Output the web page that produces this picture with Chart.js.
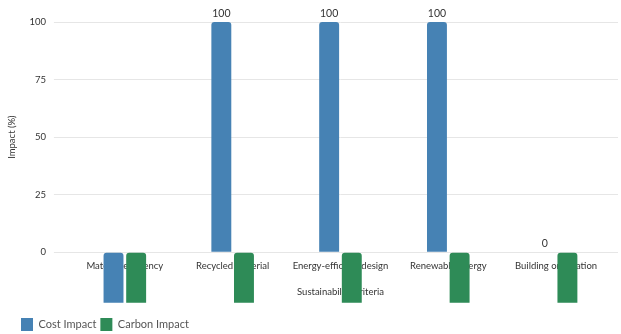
<!DOCTYPE html>
<html>
<head>
<meta charset="utf-8">
<script src="https://cdn.jsdelivr.net/npm/chart.js@4.4.1/dist/chart.umd.min.js"></script>
<style>
  html, body { margin: 0; padding: 0; background: #fff; }
  #wrap { position: relative; width: 621px; height: 334px; }
</style>
</head>
<body>
<div id="wrap"><canvas id="impactChart"></canvas></div>
<script>
// ── Data ─────────────────────────────────────────────────────────────────────
const criteria      = ['Material efficiency', 'Recycled material', 'Energy-efficient design', 'Renewable energy', 'Building orientation'];
const costImpact    = [-22, 100, 100, 100, 0];
const carbonImpact  = [-22, -22, -22, -22, -22];
const yTicks        = [0, 25, 50, 75, 100];

const COLORS = {
  cost:   '#4682B4',
  carbon: '#2E8B57',
  grid:   '#E6E6E6',
  text:   '#333333',
  muted:  '#555555',
};

const FONT = "Lato, 'Open Sans', sans-serif";

// ── Value labels above non-negative bars ─────────────────────────────────────
const valueLabels = {
  id: 'valueLabels',
  afterDatasetsDraw(chart) {
    const ctx = chart.ctx;
    ctx.save();
    ctx.font = `10.5px ${FONT}`;
    ctx.fillStyle = COLORS.text;
    ctx.textAlign = 'center';
    ctx.textBaseline = 'bottom';
    chart.data.datasets.forEach((ds, i) => {
      chart.getDatasetMeta(i).data.forEach((bar, j) => {
        const v = ds.data[j];
        if (v < 0) return;
        ctx.fillText(String(v), bar.x, bar.y - 3);
      });
    });
    ctx.restore();
  }
};

// nudge the legend a little right/down without touching the chart area
const legendNudge = {
  id: 'legendNudge',
  afterLayout(chart) {
    const lg = chart.legend;
    if (!lg) return;
    lg.left += 11; lg.right += 11;
    lg.top += 7;   lg.bottom += 7;
  }
};

const barStyle = {
  borderRadius: { topLeft: 3, topRight: 3, bottomLeft: 0, bottomRight: 0 },
  borderSkipped: false,
  categoryPercentage: 0.42,
  barPercentage: 0.88,
  clip: false,
};

new Chart(document.getElementById('impactChart'), {
  type: 'bar',
  data: {
    labels: criteria,
    datasets: [
      { label: 'Cost Impact',   data: costImpact,   backgroundColor: COLORS.cost,   ...barStyle },
      { label: 'Carbon Impact', data: carbonImpact, backgroundColor: COLORS.carbon, ...barStyle },
    ],
  },
  options: {
    responsive: true,
    maintainAspectRatio: false,
    animation: false,
    layout: { padding: { top: 22, left: 6, right: 3, bottom: 0 } },
    plugins: {
      legend: {
        position: 'bottom',
        align: 'start',
        labels: {
          boxWidth: 12,
          boxHeight: 13,
          padding: 4,
          color: COLORS.muted,
          font: { family: FONT, size: 11 },
        },
      },
      tooltip: { enabled: false },
    },
    scales: {
      x: {
        grid: { display: false },
        border: { display: false },
        ticks: { color: COLORS.text, font: { family: FONT, size: 9.5 }, maxRotation: 0, autoSkip: false, padding: 0 },
        title: {
          display: true,
          text: 'Sustainability criteria',
          color: COLORS.text,
          font: { family: FONT, size: 9.5 },
          padding: { top: 15, bottom: 9 },
        },
      },
      y: {
        min: 0,
        max: 100,
        afterBuildTicks: axis => { axis.ticks = yTicks.map(v => ({ value: v })); },
        grid: { color: COLORS.grid, tickLength: 17, tickColor: COLORS.grid },
        border: { display: false },
        ticks: { color: COLORS.text, font: { family: FONT, size: 9.5 }, padding: 8 },
        title: {
          display: true,
          text: 'Impact (%)',
          color: COLORS.text,
          font: { family: FONT, size: 9.5 },
          padding: { top: 0, bottom: 4 },
        },
      },
      yRight: {
        position: 'right',
        min: 0,
        max: 100,
        afterBuildTicks: axis => { axis.ticks = yTicks.map(v => ({ value: v })); },
        grid: { drawOnChartArea: false, tickLength: 8, color: COLORS.grid },
        border: { display: false },
        ticks: { display: false },
      },
    },
  },
  plugins: [valueLabels, legendNudge],
});
</script>
</body>
</html>
